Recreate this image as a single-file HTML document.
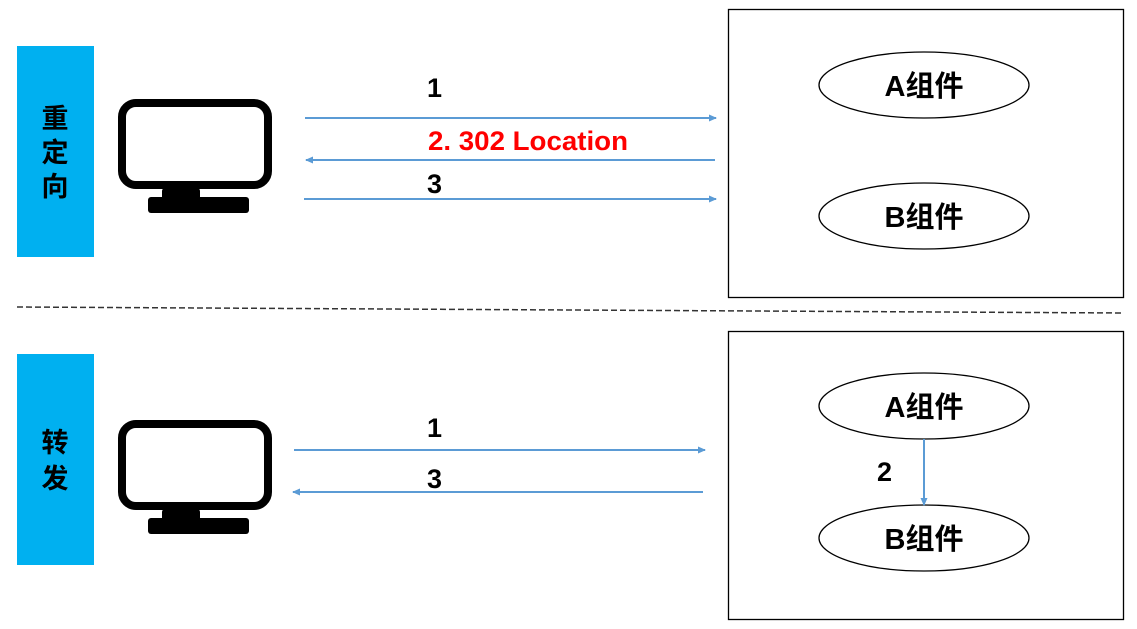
<!DOCTYPE html>
<html><head><meta charset="utf-8"><style>
html,body{margin:0;padding:0;background:#fff;width:1137px;height:629px;overflow:hidden}
text{font-family:"Liberation Sans","Noto Sans CJK SC",sans-serif;font-weight:bold}
</style></head><body>
<svg width="1137" height="629" viewBox="0 0 1137 629" xmlns="http://www.w3.org/2000/svg">
<defs>
<marker id="ah" markerWidth="8" markerHeight="8" refX="7" refY="4" orient="auto" markerUnits="userSpaceOnUse">
<path d="M0,0.5 L8,4 L0,7.5 z" fill="#5b9bd5"/></marker>
</defs>
<rect x="17" y="46" width="77" height="211" fill="#00b0f0"/>
<text x="55" y="128" font-size="27" text-anchor="middle" fill="#000">重</text>
<text x="55" y="162" font-size="27" text-anchor="middle" fill="#000">定</text>
<text x="55" y="196" font-size="27" text-anchor="middle" fill="#000">向</text>
<rect x="17" y="354" width="77" height="211" fill="#00b0f0"/>
<text x="55" y="452" font-size="27" text-anchor="middle" fill="#000">转</text>
<text x="55" y="488" font-size="27" text-anchor="middle" fill="#000">发</text>

<g>
<rect x="122" y="103" width="146" height="82" rx="14" fill="none" stroke="#000" stroke-width="8"/>
<rect x="162" y="188" width="38" height="12" rx="3" fill="#000"/>
<rect x="148" y="197" width="101" height="16" rx="3" fill="#000"/>
</g>
<g transform="translate(0,321)">
<rect x="122" y="103" width="146" height="82" rx="14" fill="none" stroke="#000" stroke-width="8"/>
<rect x="162" y="188" width="38" height="12" rx="3" fill="#000"/>
<rect x="148" y="197" width="101" height="16" rx="3" fill="#000"/>
</g>

<line x1="305" y1="118" x2="716" y2="118" stroke="#5b9bd5" stroke-width="2" marker-end="url(#ah)"/>
<line x1="715" y1="160" x2="306" y2="160" stroke="#5b9bd5" stroke-width="2" marker-end="url(#ah)"/>
<line x1="304" y1="199" x2="716" y2="199" stroke="#5b9bd5" stroke-width="2" marker-end="url(#ah)"/>
<text x="427" y="97" font-size="27" fill="#000">1</text>
<text x="428" y="150" font-size="27" fill="#ff0000" textLength="200" lengthAdjust="spacingAndGlyphs">2. 302 Location</text>
<text x="427" y="193" font-size="27" fill="#000">3</text>

<rect x="728.5" y="9.5" width="395" height="288" fill="none" stroke="#000" stroke-width="1.3"/>
<ellipse cx="924" cy="85" rx="105" ry="33" fill="none" stroke="#000" stroke-width="1.3"/>
<text x="924" y="96" font-size="29" text-anchor="middle" fill="#000">A组件</text>
<ellipse cx="924" cy="216" rx="105" ry="33" fill="none" stroke="#000" stroke-width="1.3"/>
<text x="924" y="227" font-size="29" text-anchor="middle" fill="#000">B组件</text>

<line x1="17" y1="307" x2="1124" y2="313" stroke="#333" stroke-width="1.5" stroke-dasharray="6,3"/>

<line x1="294" y1="450" x2="705" y2="450" stroke="#5b9bd5" stroke-width="2" marker-end="url(#ah)"/>
<line x1="703" y1="492" x2="293" y2="492" stroke="#5b9bd5" stroke-width="2" marker-end="url(#ah)"/>
<text x="427" y="437" font-size="27" fill="#000">1</text>
<text x="427" y="488" font-size="27" fill="#000">3</text>

<rect x="728.5" y="331.5" width="395" height="288" fill="none" stroke="#000" stroke-width="1.3"/>
<ellipse cx="924" cy="406" rx="105" ry="33" fill="none" stroke="#000" stroke-width="1.3"/>
<text x="924" y="417" font-size="29" text-anchor="middle" fill="#000">A组件</text>
<ellipse cx="924" cy="538" rx="105" ry="33" fill="none" stroke="#000" stroke-width="1.3"/>
<text x="924" y="549" font-size="29" text-anchor="middle" fill="#000">B组件</text>
<line x1="924" y1="439" x2="924" y2="505" stroke="#5b9bd5" stroke-width="2" marker-end="url(#ah)"/>
<text x="877" y="481" font-size="27" fill="#000">2</text>
</svg>
</body></html>
